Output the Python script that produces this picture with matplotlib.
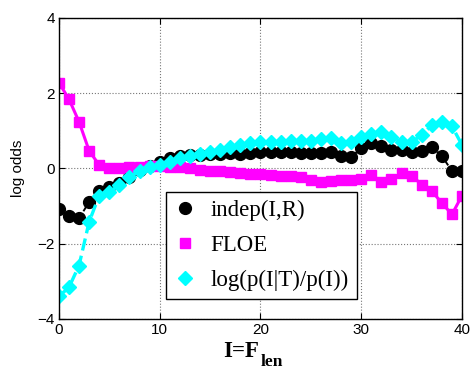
import numpy as np
from matplotlib import pyplot as plt
from matplotlib.lines import Line2D

plt.rcParams['font.family'] = ['Liberation Sans', 'DejaVu Sans']

# feature value I = F_len
lengths = np.arange(0, 41)

indep = [-1.09, -1.27, -1.33, -0.89, -0.60, -0.50, -0.38, -0.22, -0.05, 0.07,
         0.18, 0.27, 0.33, 0.35, 0.36, 0.37, 0.38, 0.40, 0.39, 0.42,
         0.43, 0.44, 0.44, 0.44, 0.42, 0.42, 0.42, 0.43, 0.32, 0.31,
         0.53, 0.68, 0.59, 0.49, 0.48, 0.44, 0.45, 0.57, 0.33, -0.07,
         -0.08]

floe = [2.28, 1.84, 1.24, 0.47, 0.09, 0.02, 0.02, 0.03, 0.05, 0.06,
        0.06, 0.05, 0.03, 0.00, -0.03, -0.06, -0.08, -0.10, -0.12, -0.14,
        -0.15, -0.17, -0.19, -0.20, -0.24, -0.30, -0.36, -0.33, -0.32, -0.32,
        -0.28, -0.17, -0.35, -0.29, -0.12, -0.19, -0.43, -0.60, -0.92, -1.22,
        -0.72]

log_ratio = [-3.40, -3.16, -2.58, -1.42, -0.72, -0.62, -0.45, -0.23, -0.07, 0.03,
             0.10, 0.18, 0.27, 0.33, 0.38, 0.43, 0.50, 0.57, 0.63, 0.67,
             0.70, 0.71, 0.71, 0.72, 0.73, 0.74, 0.78, 0.81, 0.68, 0.69,
             0.83, 0.92, 0.96, 0.83, 0.71, 0.71, 0.88, 1.15, 1.24, 1.12,
             0.62]

labels = ['indep(I,R)', 'FLOE', 'log(p(I|T)/p(I))']

fig = plt.figure(figsize=(4.71, 3.72), dpi=100)
ax = fig.add_axes([0.125, 0.1425, 0.856, 0.8095])

ax.plot(lengths, indep, '--', color='k', lw=1.4, marker='o', ms=8.5)
ax.plot(lengths, floe, '-', color='#ff00ff', lw=2.2, marker='s', ms=7.5)
ax.plot(lengths, log_ratio, '--', color='#00ffff', lw=2.4, marker='D', ms=7.5)

ax.set_xlim(0, 40)
ax.set_ylim(-4, 4)
ax.set_xticks([0, 10, 20, 30, 40])
ax.set_yticks([-4, -2, 0, 2, 4])
ax.tick_params(direction='in', top=True, right=True, length=4, labelsize=11, pad=3)
ax.grid(True, linestyle=':', color='#777777', lw=0.8)
for s in ax.spines.values():
    s.set_linewidth(1.0)

ax.set_ylabel('log odds', fontsize=11, labelpad=9)

# x label: "I=F" with a large subscript "len"
fig.text(223 / 471, 1 - 357 / 372, 'I=F', family='Liberation Serif',
         weight='bold', fontsize=16.5, ha='left', va='baseline')
fig.text(261 / 471, 1 - 366 / 372, 'len', family='Liberation Serif',
         weight='bold', fontsize=12.5, ha='left', va='baseline')

handles = [Line2D([], [], ls='none', color='k', marker='o', ms=8.5),
           Line2D([], [], ls='none', color='#ff00ff', marker='s', ms=7.5),
           Line2D([], [], ls='none', color='#00ffff', marker='D', ms=7.5)]
leg = ax.legend(handles, labels, loc='upper left', bbox_to_anchor=(0.265, 0.422),
                prop={'family': 'Liberation Serif', 'size': 16.5}, fancybox=False,
                edgecolor='k', framealpha=1, handlelength=1.0, handletextpad=0.6,
                labelspacing=0.6, borderpad=0.35, borderaxespad=0)
leg.get_frame().set_linewidth(1.0)

fig.savefig('out.png', dpi=100)
